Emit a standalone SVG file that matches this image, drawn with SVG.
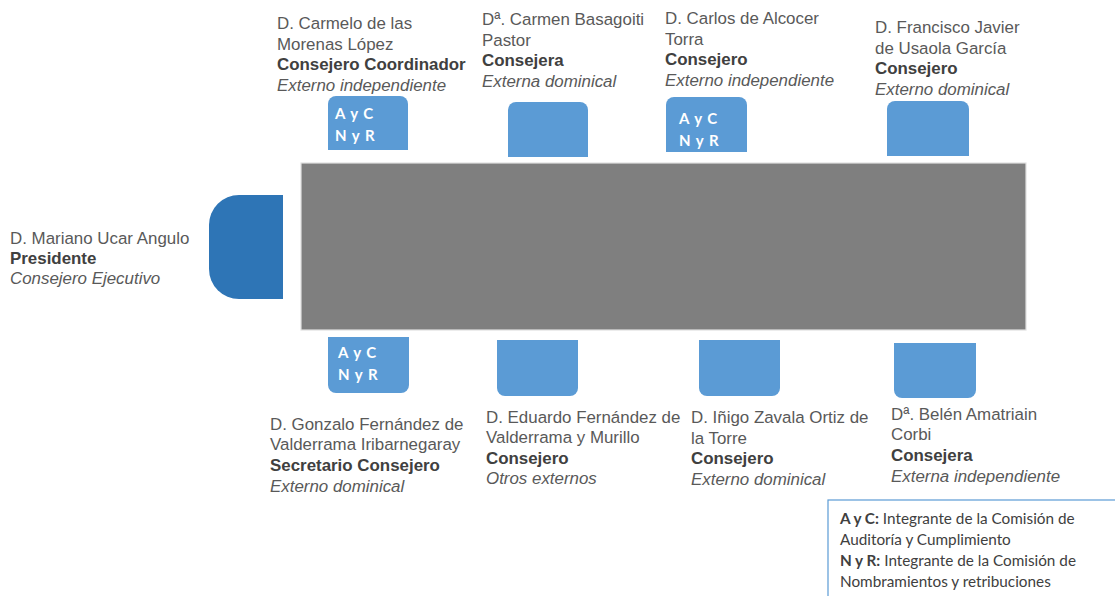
<svg xmlns="http://www.w3.org/2000/svg" width="1115" height="596" viewBox="0 0 1115 596">
<style>
.t{font-family:"Liberation Sans",Arial,sans-serif;font-size:16.9px;fill:#595959}
.b{font-weight:bold;fill:#404040}
.i{font-style:italic}
.chair{fill:#5b9bd5}
.pres{fill:#2e75b6}
.ct{font-family:Lato,"Open Sans",sans-serif;font-size:15px;font-weight:bold;fill:#ffffff;letter-spacing:1px}
.lg{font-family:Lato,"Open Sans",sans-serif;font-size:15.3px;fill:#404040}
</style>
<rect width="1115" height="596" fill="#ffffff"/>
<g id="table"><rect x="301" y="163" width="725" height="167" fill="#7f7f7f" stroke="#e0e0e0" stroke-width="1.2"/></g>

<g id="presidente">
<path class="pres" d="M283,195 H239 A30,30 0 0 0 209,225 V269 A30,30 0 0 0 239,299 H283 Z"/>
<text class="t" x="10" y="244">D. Mariano Ucar Angulo</text>
<text class="t b" x="10" y="264">Presidente</text>
<text class="t i" x="10" y="284">Consejero Ejecutivo</text>
</g>

<g id="carmelo">
<path class="chair" d="M328,150 V104 A8,8 0 0 1 336,96 H400 A8,8 0 0 1 408,104 V150 Z"/>
<text class="ct" x="335" y="119">A y C</text>
<text class="ct" x="335" y="141">N y R</text>
<text class="t" x="277" y="29">D. Carmelo de las</text>
<text class="t" x="277" y="50">Morenas López</text>
<text class="t b" x="277" y="70">Consejero Coordinador</text>
<text class="t i" x="277" y="91">Externo independiente</text>
</g>

<g id="carmen">
<path class="chair" d="M508,157 V110 A8,8 0 0 1 516,102 H580 A8,8 0 0 1 588,110 V157 Z"/>
<text class="t" x="482" y="25">Dª. Carmen Basagoiti</text>
<text class="t" x="482" y="46">Pastor</text>
<text class="t b" x="482" y="66">Consejera</text>
<text class="t i" x="482" y="87">Externa dominical</text>
</g>

<g id="carlos">
<path class="chair" d="M666,152 V105 A8,8 0 0 1 674,97 H739 A8,8 0 0 1 747,105 V152 Z"/>
<text class="ct" x="679" y="124">A y C</text>
<text class="ct" x="679" y="146">N y R</text>
<text class="t" x="665" y="24">D. Carlos de Alcocer</text>
<text class="t" x="665" y="45">Torra</text>
<text class="t b" x="665" y="65">Consejero</text>
<text class="t i" x="665" y="86">Externo independiente</text>
</g>

<g id="francisco">
<path class="chair" d="M887,156 V109 A8,8 0 0 1 895,101 H961 A8,8 0 0 1 969,109 V156 Z"/>
<text class="t" x="875" y="33">D. Francisco Javier</text>
<text class="t" x="875" y="54">de Usaola García</text>
<text class="t b" x="875" y="74">Consejero</text>
<text class="t i" x="875" y="95">Externo dominical</text>
</g>

<g id="gonzalo">
<path class="chair" d="M328,337 V385 A8,8 0 0 0 336,393 H401 A8,8 0 0 0 409,385 V337 Z"/>
<text class="ct" x="338" y="358">A y C</text>
<text class="ct" x="338" y="380">N y R</text>
<text class="t" x="270" y="430">D. Gonzalo Fernández de</text>
<text class="t" x="270" y="450">Valderrama Iribarnegaray</text>
<text class="t b" x="270" y="471">Secretario Consejero</text>
<text class="t i" x="270" y="492">Externo dominical</text>
</g>

<g id="eduardo">
<path class="chair" d="M497,340 V388 A8,8 0 0 0 505,396 H570 A8,8 0 0 0 578,388 V340 Z"/>
<text class="t" x="486" y="423">D. Eduardo Fernández de</text>
<text class="t" x="486" y="443">Valderrama y Murillo</text>
<text class="t b" x="486" y="464">Consejero</text>
<text class="t i" x="486" y="484">Otros externos</text>
</g>

<g id="inigo">
<path class="chair" d="M699,340 V388 A8,8 0 0 0 707,396 H772 A8,8 0 0 0 780,388 V340 Z"/>
<text class="t" x="691" y="423">D. Iñigo Zavala Ortiz de</text>
<text class="t" x="691" y="444">la Torre</text>
<text class="t b" x="691" y="464">Consejero</text>
<text class="t i" x="691" y="485">Externo dominical</text>
</g>

<g id="belen">
<path class="chair" d="M894,343 V390 A8,8 0 0 0 902,398 H968 A8,8 0 0 0 976,390 V343 Z"/>
<text class="t" x="891" y="420">Dª. Belén Amatriain</text>
<text class="t" x="891" y="440">Corbi</text>
<text class="t b" x="891" y="461">Consejera</text>
<text class="t i" x="891" y="482">Externa independiente</text>
</g>

<g id="leyenda">
<rect x="828" y="500" width="290" height="100" fill="#ffffff" stroke="#5b9bd5" stroke-width="1.2"/>
<text class="lg" x="840" y="524"><tspan font-weight="bold">A y C:</tspan> Integrante de la Comisión de</text>
<text class="lg" x="840" y="545">Auditoría y Cumplimiento</text>
<text class="lg" x="840" y="566"><tspan font-weight="bold">N y R:</tspan> Integrante de la Comisión de</text>
<text class="lg" x="840" y="587">Nombramientos y retribuciones</text>
</g>
<g id="connectors"/>
</svg>
